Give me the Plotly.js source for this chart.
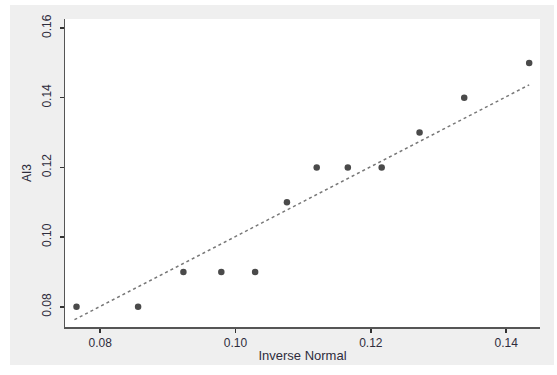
<!DOCTYPE html>
<html>
<head>
<meta charset="utf-8">
<script src="https://cdn.plot.ly/plotly-3.0.1.min.js"></script>
<style>
html,body{margin:0;padding:0;background:#ffffff;width:557px;height:375px;overflow:hidden;}
#frame{position:absolute;left:10px;top:5px;width:544px;height:360px;background:#efefef;}
#chart{width:544px;height:360px;}
</style>
</head>
<body>
<div id="frame"><div id="chart"></div></div>
<script>
// Observed points
const inverseNormal = [0.0765, 0.0856, 0.0923, 0.0979, 0.1029, 0.1076, 0.1120, 0.1166, 0.1216, 0.1272, 0.1338, 0.1434];
const ai3 = [0.08, 0.08, 0.09, 0.09, 0.09, 0.11, 0.12, 0.12, 0.12, 0.13, 0.14, 0.15];
// Fitted line endpoints
const fitX = [0.0762, 0.1434];
const fitY = [0.0763, 0.1437];
const xTicks = [0.08, 0.10, 0.12, 0.14];
const xTickText = ['0.08', '0.10', '0.12', '0.14'];
const yTicks = [0.08, 0.10, 0.12, 0.14, 0.16];
const yTickText = ['0.08', '0.10', '0.12', '0.14', '0.16'];

const txtColor = '#2e2c3c';
const font = {family: 'Liberation Sans, Arial, sans-serif', size: 12, color: txtColor};

const traces = [
  {x: fitX, y: fitY, mode: 'lines', type: 'scatter',
   line: {color: '#777777', width: 1.5, dash: 'dot'}, hoverinfo: 'skip'},
  {x: inverseNormal, y: ai3, mode: 'markers', type: 'scatter',
   marker: {color: '#4a4a4a', size: 6.5, symbol: 'circle'}}
];

const layout = {
  width: 544, height: 360,
  margin: {l: 55, r: 14, t: 14, b: 38},
  paper_bgcolor: '#efefef',
  plot_bgcolor: '#ffffff',
  showlegend: false,
  font: font,
  xaxis: {
    range: [0.0748, 0.1450],
    tickvals: xTicks, ticktext: xTickText,
    ticks: 'outside', ticklen: 4, tickwidth: 1.5, tickcolor: '#333',
    showline: true, linecolor: '#555', linewidth: 1.5,
    showgrid: false, zeroline: false,
    tickfont: {family: font.family, size: 12, color: txtColor},
    title: {text: 'Inverse Normal', standoff: 2, font: {family: font.family, size: 13, color: txtColor}}
  },
  yaxis: {
    range: [0.0742, 0.1626],
    tickvals: yTicks, ticktext: yTickText,
    ticks: 'outside', ticklen: 4, tickwidth: 1.5, tickcolor: '#333',
    tickangle: -90, ticklabelstandoff: 4,
    showline: true, linecolor: '#555', linewidth: 1.5,
    showgrid: false, zeroline: false,
    tickfont: {family: font.family, size: 12, color: txtColor},
    title: {text: 'AI3', standoff: 5, font: {family: font.family, size: 12, color: txtColor}}
  }
};

Plotly.newPlot('chart', traces, layout, {staticPlot: true, displayModeBar: false});
</script>
</body>
</html>
